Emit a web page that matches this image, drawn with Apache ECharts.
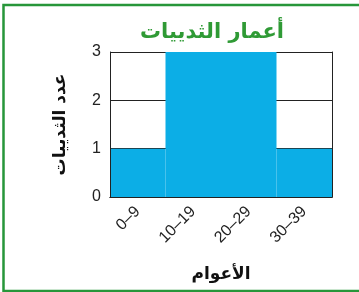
<!DOCTYPE html>
<html>
<head>
<meta charset="utf-8">
<script src="https://cdn.jsdelivr.net/npm/echarts@6/dist/echarts.min.js"></script>
<style>
  html, body { margin: 0; padding: 0; background: #fff; }
  #chart { width: 359px; height: 292px; }
</style>
</head>
<body>
<div id="chart"></div>
<script>
  // عدد الثدييات لكل فئة عمرية
  const ageGroups = ['0–9', '10–19', '20–29', '30–39']
  const mammalCounts = [1, 3, 3, 1]
  const yTicks = [0, 1, 2, 3]

  const frameAxis = {
    axisLine: {show: true, lineStyle: {color: '#222', width: 1}},
    axisTick: {show: false},
    axisLabel: {show: false},
    splitLine: {show: false},
    z: 5
  }

  const chart = echarts.init(document.getElementById('chart'), null, {renderer: 'canvas'})
  chart.setOption({
    animation: false,
    backgroundColor: '#fff',
    title: {
      text: 'أعمار الثدييات',
      left: 207,
      top: 17,
      textAlign: 'center',
      textStyle: {color: '#2f9a35', fontSize: 21, fontWeight: 'bold', fontFamily: 'DejaVu Sans'}
    },
    // green frame round the figure
    graphic: [{
      type: 'rect',
      shape: {x: 3.5, y: 5, width: 370, height: 286},
      style: {fill: 'none', stroke: '#27963a', lineWidth: 2.5},
      silent: true
    }],
    grid: {left: 110, right: 27, top: 52, bottom: 95},
    xAxis: [{
      type: 'category',
      data: ageGroups,
      name: 'الأعوام',
      nameLocation: 'middle',
      nameGap: 69,
      nameTextStyle: {color: '#111', fontSize: 17, fontWeight: 'bold', fontFamily: 'DejaVu Sans'},
      axisLine: {show: true, lineStyle: {color: '#222', width: 1}},
      axisTick: {show: false},
      axisLabel: {rotate: 45, margin: 12, color: '#222', fontSize: 16, fontFamily: 'Liberation Sans'},
      z: 5
    }, Object.assign({type: 'category', data: ageGroups, position: 'top'}, frameAxis)],
    yAxis: [{
      type: 'value',
      min: yTicks[0],
      max: yTicks[yTicks.length - 1],
      interval: 1,
      name: 'عدد الثدييات',
      nameLocation: 'middle',
      nameGap: 41,
      nameRotate: 90,
      nameTextStyle: {color: '#111', fontSize: 17, fontWeight: 'bold', fontFamily: 'DejaVu Sans'},
      axisLine: {show: false},
      axisTick: {show: false},
      axisLabel: {margin: 9, color: '#222', fontSize: 16, fontFamily: 'Liberation Sans'},
      splitLine: {show: true, lineStyle: {color: '#222', width: 1}}
    },
    Object.assign({type: 'value', position: 'right', min: 0, max: 3, interval: 1}, frameAxis),
    Object.assign({type: 'value', position: 'left', min: 0, max: 3, interval: 1}, frameAxis)],
    series: [{
      name: 'عدد الثدييات',
      type: 'bar',
      data: mammalCounts,
      barWidth: '100%',
      itemStyle: {color: '#0caee6'}
    }]
  })
</script>
</body>
</html>
